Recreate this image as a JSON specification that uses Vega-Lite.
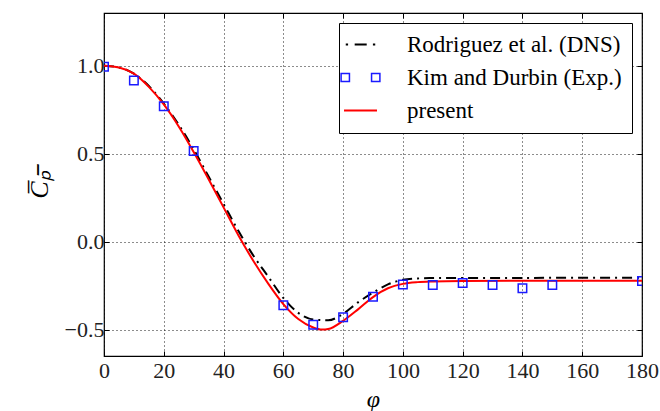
{
  "$schema": "https://vega.github.io/schema/vega-lite/v6.json",
  "width": 538,
  "height": 343,
  "autosize": {"type": "none"},
  "padding": {"left": 104, "top": 13, "right": 18, "bottom": 55},
  "background": "white",
  "config": {
    "view": {"stroke": "black", "strokeWidth": 1.2},
    "font": "Liberation Serif",
    "axis": {
      "domain": false,
      "grid": true,
      "gridColor": "black",
      "gridDash": [1, 3],
      "gridWidth": 1,
      "gridOpacity": 0.9,
      "tickColor": "black",
      "tickSize": -5,
      "tickWidth": 1,
      "labelFlush": false,
      "labelFont": "Liberation Serif",
      "labelFontSize": 22,
      "labelColor": "#222",
      "titleFont": "Liberation Serif",
      "titleColor": "black",
      "titleFontWeight": "normal"
    }
  },
  "datasets": {
    "curves": [
      {"phi": 0, "cp": 1.0, "series": "Rodriguez et al. (DNS)"},
      {"phi": 5, "cp": 0.99, "series": "Rodriguez et al. (DNS)"},
      {"phi": 10, "cp": 0.955, "series": "Rodriguez et al. (DNS)"},
      {"phi": 15, "cp": 0.885, "series": "Rodriguez et al. (DNS)"},
      {"phi": 20, "cp": 0.785, "series": "Rodriguez et al. (DNS)"},
      {"phi": 25, "cp": 0.665, "series": "Rodriguez et al. (DNS)"},
      {"phi": 30, "cp": 0.525, "series": "Rodriguez et al. (DNS)"},
      {"phi": 35, "cp": 0.37, "series": "Rodriguez et al. (DNS)"},
      {"phi": 40, "cp": 0.215, "series": "Rodriguez et al. (DNS)"},
      {"phi": 45, "cp": 0.06, "series": "Rodriguez et al. (DNS)"},
      {"phi": 50, "cp": -0.08, "series": "Rodriguez et al. (DNS)"},
      {"phi": 55, "cp": -0.2, "series": "Rodriguez et al. (DNS)"},
      {"phi": 60, "cp": -0.32, "series": "Rodriguez et al. (DNS)"},
      {"phi": 65, "cp": -0.405, "series": "Rodriguez et al. (DNS)"},
      {"phi": 70, "cp": -0.443, "series": "Rodriguez et al. (DNS)"},
      {"phi": 75, "cp": -0.447, "series": "Rodriguez et al. (DNS)"},
      {"phi": 80, "cp": -0.41, "series": "Rodriguez et al. (DNS)"},
      {"phi": 85, "cp": -0.345, "series": "Rodriguez et al. (DNS)"},
      {"phi": 90, "cp": -0.29, "series": "Rodriguez et al. (DNS)"},
      {"phi": 95, "cp": -0.243, "series": "Rodriguez et al. (DNS)"},
      {"phi": 100, "cp": -0.217, "series": "Rodriguez et al. (DNS)"},
      {"phi": 105, "cp": -0.209, "series": "Rodriguez et al. (DNS)"},
      {"phi": 110, "cp": -0.207, "series": "Rodriguez et al. (DNS)"},
      {"phi": 120, "cp": -0.206, "series": "Rodriguez et al. (DNS)"},
      {"phi": 140, "cp": -0.206, "series": "Rodriguez et al. (DNS)"},
      {"phi": 160, "cp": -0.205, "series": "Rodriguez et al. (DNS)"},
      {"phi": 180, "cp": -0.205, "series": "Rodriguez et al. (DNS)"},
      {"phi": 0, "cp": 1.0, "series": "present"},
      {"phi": 5, "cp": 0.99, "series": "present"},
      {"phi": 10, "cp": 0.955, "series": "present"},
      {"phi": 15, "cp": 0.88, "series": "present"},
      {"phi": 20, "cp": 0.78, "series": "present"},
      {"phi": 25, "cp": 0.655, "series": "present"},
      {"phi": 30, "cp": 0.51, "series": "present"},
      {"phi": 35, "cp": 0.355, "series": "present"},
      {"phi": 40, "cp": 0.195, "series": "present"},
      {"phi": 45, "cp": 0.035, "series": "present"},
      {"phi": 50, "cp": -0.11, "series": "present"},
      {"phi": 55, "cp": -0.24, "series": "present"},
      {"phi": 60, "cp": -0.355, "series": "present"},
      {"phi": 65, "cp": -0.44, "series": "present"},
      {"phi": 70, "cp": -0.488, "series": "present"},
      {"phi": 73, "cp": -0.5, "series": "present"},
      {"phi": 75, "cp": -0.497, "series": "present"},
      {"phi": 80, "cp": -0.45, "series": "present"},
      {"phi": 85, "cp": -0.385, "series": "present"},
      {"phi": 90, "cp": -0.315, "series": "present"},
      {"phi": 95, "cp": -0.265, "series": "present"},
      {"phi": 100, "cp": -0.24, "series": "present"},
      {"phi": 105, "cp": -0.23, "series": "present"},
      {"phi": 110, "cp": -0.226, "series": "present"},
      {"phi": 120, "cp": -0.223, "series": "present"},
      {"phi": 140, "cp": -0.222, "series": "present"},
      {"phi": 160, "cp": -0.222, "series": "present"},
      {"phi": 180, "cp": -0.222, "series": "present"}
    ],
    "exp": [
      {"phi": 0, "cp": 0.994, "series": "Kim and Durbin (Exp.)"},
      {"phi": 10, "cp": 0.916, "series": "Kim and Durbin (Exp.)"},
      {"phi": 20, "cp": 0.77, "series": "Kim and Durbin (Exp.)"},
      {"phi": 30, "cp": 0.515, "series": "Kim and Durbin (Exp.)"},
      {"phi": 60, "cp": -0.362, "series": "Kim and Durbin (Exp.)"},
      {"phi": 70, "cp": -0.473, "series": "Kim and Durbin (Exp.)"},
      {"phi": 80, "cp": -0.43, "series": "Kim and Durbin (Exp.)"},
      {"phi": 90, "cp": -0.3125, "series": "Kim and Durbin (Exp.)"},
      {"phi": 100, "cp": -0.243, "series": "Kim and Durbin (Exp.)"},
      {"phi": 110, "cp": -0.246, "series": "Kim and Durbin (Exp.)"},
      {"phi": 120, "cp": -0.235, "series": "Kim and Durbin (Exp.)"},
      {"phi": 130, "cp": -0.246, "series": "Kim and Durbin (Exp.)"},
      {"phi": 140, "cp": -0.265, "series": "Kim and Durbin (Exp.)"},
      {"phi": 150, "cp": -0.246, "series": "Kim and Durbin (Exp.)"},
      {"phi": 180, "cp": -0.223, "series": "Kim and Durbin (Exp.)"}
    ]
  },
  "resolve": {"axis": {"x": "independent", "y": "independent"}},
  "layer": [
    {
      "data": {"name": "curves"},
      "transform": [{"filter": "datum.series === 'Rodriguez et al. (DNS)'"}],
      "mark": {"type": "line", "strokeWidth": 2, "strokeDash": [10, 5, 2, 5], "interpolate": "monotone", "clip": true},
      "encoding": {
        "x": {"field": "phi", "type": "quantitative", "scale": {"domain": [0, 180], "nice": false, "zero": false},
              "axis": {"orient": "bottom", "values": [0, 20, 40, 60, 80, 100, 120, 140, 160, 180], "labelPadding": 9, "title": "φ", "titleFontSize": 24, "titleFontStyle": "italic", "titlePadding": 6}},
        "y": {"field": "cp", "type": "quantitative", "scale": {"domain": [-0.65, 1.3], "nice": false, "zero": false},
              "axis": {"orient": "left", "values": [-0.5, 0, 0.5, 1.0], "format": ".1f", "labelPadding": 5, "title": "C̅ₚ̅", "titleFontSize": 26, "titleFontStyle": "italic", "titlePadding": 12}},
        "color": {
          "field": "series", "type": "nominal",
          "scale": {"domain": ["Rodriguez et al. (DNS)", "Kim and Durbin (Exp.)", "present"], "range": ["black", "#1a1aff", "#ff0000"]},
          "legend": {
            "orient": "top-right", "offset": 10, "title": null,
            "strokeColor": "black", "fillColor": "white", "padding": 10, "cornerRadius": 0,
            "labelFont": "Liberation Serif", "labelFontSize": 23, "labelColor": "black",
            "labelOffset": 35, "rowPadding": 9, "symbolSize": 1505, "labelLimit": 400,
            "encode": {
              "symbols": {
                "update": {
                  "shape": {"signal": "datum.value === 'Kim and Durbin (Exp.)' ? 'M-1,-0.21H-0.57V0.21H-1Z M0.57,-0.21H1V0.21H0.57Z' : datum.value === 'Rodriguez et al. (DNS)' ? 'M-0.76,0H-0.64M-0.3,0H0.32M0.64,0H0.76' : 'M-0.85,0H0.85'"},
                  "size": {"value": 1505},
                  "fill": {"value": "transparent"},
                  "fillOpacity": {"value": 0},
                  "stroke": {"signal": "scale('color', datum.value)"},
                  "strokeWidth": {"signal": "datum.value === 'Kim and Durbin (Exp.)' ? 1.5 : 2"},
                  "strokeDash": {"value": []},
                  "opacity": {"value": 1}
                }
              }
            }
          }
        }
      }
    },
    {
      "data": {"name": "curves"},
      "transform": [{"filter": "datum.series === 'present'"}],
      "mark": {"type": "line", "strokeWidth": 2, "interpolate": "monotone", "clip": true},
      "encoding": {
        "x": {"field": "phi", "type": "quantitative", "axis": {"orient": "top", "values": [0, 20, 40, 60, 80, 100, 120, 140, 160, 180], "labels": false, "grid": false, "title": null}},
        "y": {"field": "cp", "type": "quantitative", "axis": {"orient": "right", "values": [-0.5, 0, 0.5, 1.0], "labels": false, "grid": false, "title": null}},
        "color": {"field": "series", "type": "nominal"}
      }
    },
    {
      "data": {"name": "exp"},
      "mark": {"type": "point", "shape": "square", "filled": false, "size": 72, "strokeWidth": 1.5, "opacity": 1, "clip": true},
      "encoding": {
        "x": {"field": "phi", "type": "quantitative", "axis": null},
        "y": {"field": "cp", "type": "quantitative", "axis": null},
        "color": {"field": "series", "type": "nominal"}
      }
    }
  ]
}
